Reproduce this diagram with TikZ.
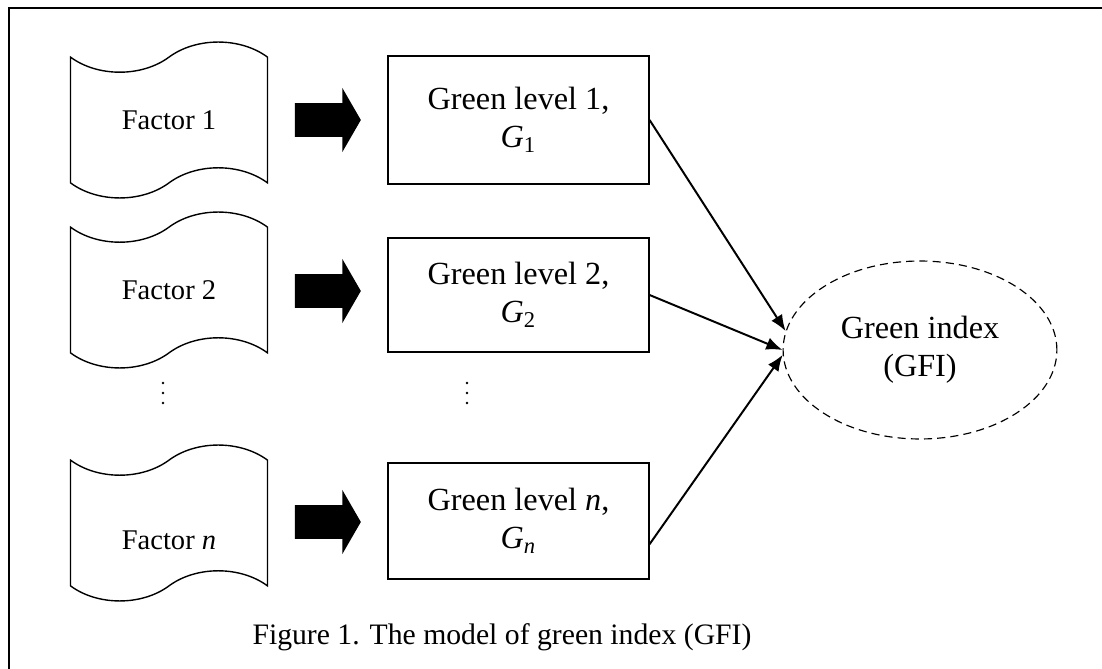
\documentclass[tikz,border=0pt]{standalone}
\usepackage{fontspec}
\setmainfont{Liberation Serif}
\usetikzlibrary{shapes.symbols,shapes.arrows,shapes.geometric,arrows.meta,positioning}

\begin{document}
\begin{tikzpicture}[x=0.431pt,y=-0.431pt,font=\fontsize{13.9}{16.5}\selectfont,
		factor/.style={draw,line width=0.6pt,shape=tape,tape bend top=in and out,tape bend bottom=in and out,tape bend height=13pt,minimum width=84.9pt,minimum height=67.2pt,inner sep=0pt,font=\fontsize{12.3}{14.8}\selectfont},
		level/.style={draw,line width=0.5pt,rectangle,minimum width=112.5pt,align=center,inner sep=0pt},
		push/.style={single arrow,fill=black,inner sep=0pt,text height=14.2pt,text depth=0pt,minimum height=28.4pt,single arrow head extend=6.5pt,single arrow tip angle=120},
		gfibox/.style={draw,line width=0.5pt,dash pattern=on 3.5pt off 2.2pt,ellipse,minimum width=118pt,minimum height=76.7pt,align=center,inner sep=0pt},
		link/.style={-{Latex[length=7pt,width=5.5pt]},line width=0.85pt}]
		\useasboundingbox (0,0) rectangle (1102,669);
		\draw[line width=0.45pt] (9,669) -- (9,8) -- (1102,8);
		
		% factors
		\node[factor] (f1) at (169,120) {Factor 1};
		\node[factor] (f2) at (169,290) {Factor 2};
		\node[factor] (fn) at (169,523) {};
		\node[font=\fontsize{12.3}{14.8}\selectfont] (fn text) at (169,540) {Factor \textit{n}};
		
		% block arrows
		\foreach \n/\y in {1/120,2/291,n/522}
		\node[push] (a\n) at (323,\y) {};
		
		% green levels
		\node[level,minimum height=55.2pt] (g1) at (518.5,120) {Green level 1,\\\textit{G}\textsubscript{1}};
		\node[level,minimum height=49.1pt] (g2) at (518.5,295) {Green level 2,\\\textit{G}\textsubscript{2}};
		\node[level,minimum height=50pt] (gn) at (518.5,521) {Green level \textit{n},\\\textit{G}\textsubscript{\textit{n}}};
		
		\foreach \x in {163,467}
		\foreach \y in {383,393,403}
		\fill (\x,\y) circle (1.3);
		
		\node[gfibox] (gfi) at (920,350) {Green index\\(GFI)};
		\draw[link] (g1.east) -- (gfi.172);
		\draw[link] (g2.east) -- (gfi.west);
		\draw[link] ([yshift=-10pt]gn.east) -- (gfi.182);
		
		\node[font=\fontsize{12.8}{15}\selectfont] (caption) at (502,637) {Figure 1. The model of green index (GFI)};
	\end{tikzpicture}
\end{document}
